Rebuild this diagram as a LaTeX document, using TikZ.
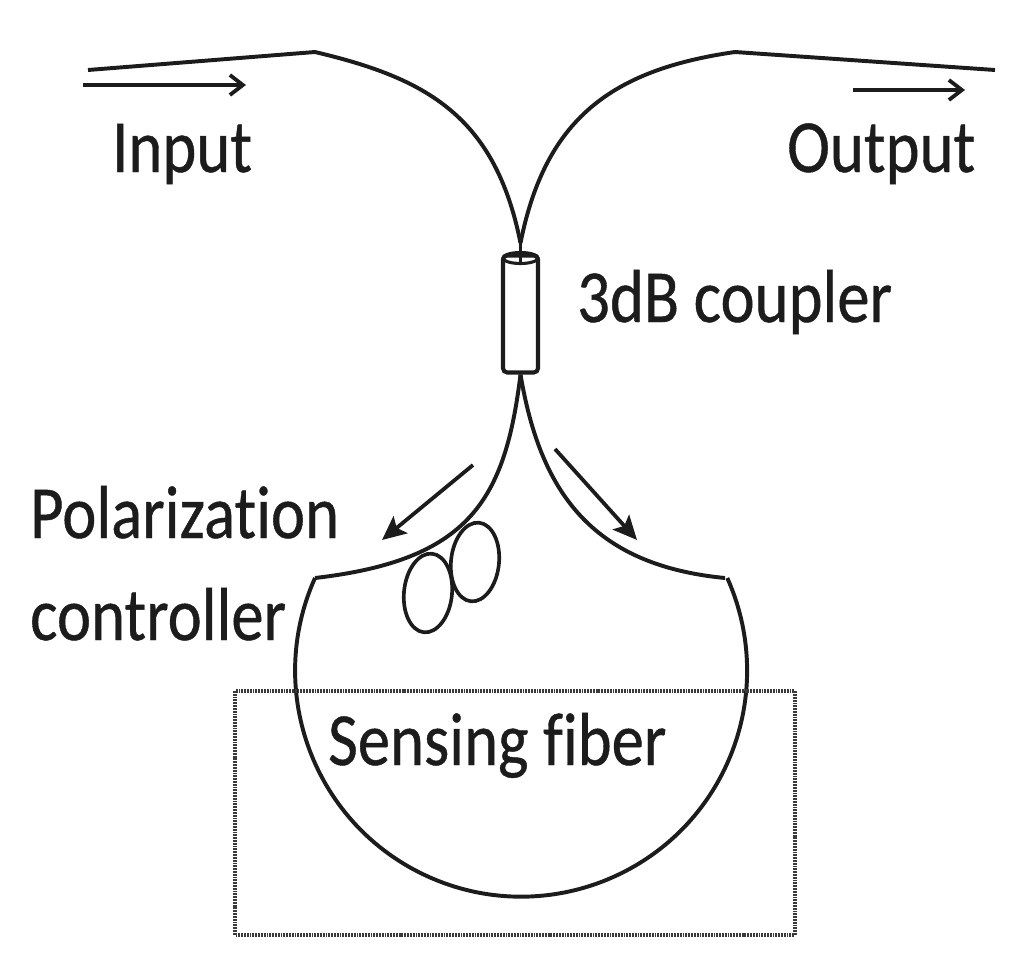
\documentclass[tikz,border=0pt]{standalone}
\usepackage{fontspec}
\setmainfont[Ligatures=NoCommon,FakeBold=.6]{Carlito}
\usetikzlibrary{arrows.meta,shapes.geometric}
\definecolor{Ink}{HTML}{1C1C1C}
\definecolor{Frame}{HTML}{3A3A3A}
\tikzset{>=Latex,
 every node/.style={text=Ink},
 lab/.style={anchor=base west,inner sep=0pt,transform shape,xscale=1.07,yscale=1.24,font=\fontsize{86}{100}\selectfont},
 fiber/.style={draw=Ink,line width=5.6pt,line join=round},
 arr/.style={-{Stealth[length=12mm,width=11mm,inset=2.5mm]},draw=Ink,line width=5.4pt},
 flowarr/.style={-{Straight Barb[length=6.5mm,width=10mm]},draw=Ink,line width=5.4pt},
 loopring/.style={ellipse,draw=Ink,line width=5.2pt,inner sep=0pt},
 coupler/.style={rectangle,draw=Ink,line width=5.8pt,fill=white,rounded corners=6pt,inner sep=0pt,minimum width=1.75cm,minimum height=5.85cm},
 rim/.style={ellipse,draw=Ink,line width=4.4pt,inner sep=0pt,minimum width=1.75cm,minimum height=.55cm},
 sensebox/.style={draw=Frame,line width=4.4pt,dash pattern=on 2.6pt off 1.4pt},
 }
\begin{document}
\begin{tikzpicture}[x=.05cm,y=-.05cm]
 \useasboundingbox (0,0) rectangle (1024,966);
 \node[coupler](cpl)at(520.5,314){};
 \node[rim](cplrim)at(520.5,258){};
 \coordinate(cpljoin)at(520.5,243);
 \coordinate(inend)at(88,70);
 \coordinate(inknee)at(315,52);
 \coordinate(outend)at(995,70);
 \coordinate(outknee)at(735,52);
 \coordinate(pcknee)at(315,578);
 \coordinate(senseknee)at(725,578);
 \coordinate(boxa)at(235,691);
 \coordinate(boxb)at(795,935);
 % fibers
 \draw[fiber](inend)--(inknee) .. controls (425,78) and (495,115) .. (cpljoin);
 \draw[fiber](outend)--(outknee) .. controls (610,70) and (545,120) .. (cpljoin);
 \draw[fiber](cpljoin)--(cplrim.south);
 \draw[fiber](cpl.south) .. controls (505,500) and (470,560) .. (pcknee);
 \draw[fiber](cpl.south) .. controls (540,490) and (590,565) .. (senseknee);
 \draw[fiber](pcknee) arc[start angle=204.2,end angle=-24.2,radius=226];
 \node[loopring,minimum width=2.4cm,minimum height=3.95cm,rotate=-6](pca)at(428,593){};
 \node[loopring,minimum width=2.4cm,minimum height=3.95cm,rotate=-6](pcb)at(475,562){};
 \draw[sensebox](boxa)rectangle(boxb);
 % direction arrows
 \coordinate(ina)at(83,85);\coordinate(inb)at(246,85);
 \coordinate(outa)at(853,90);\coordinate(outb)at(965,90);
 \coordinate(la)at(473,465);\coordinate(lb)at(382,540);
 \coordinate(ra)at(555,449);\coordinate(rb)at(637,540);
 \draw[flowarr](ina)--(inb);\draw[flowarr](outa)--(outb);
 \draw[arr](la)--(lb);\draw[arr](ra)--(rb);
 % labels
 \node[lab](input)at(112,172){Input};
 \node[lab](output)at(787,172){Output};
 \node[lab](cpltext)at(577,322){3dB coupler};
 \node[lab](pc1)at(30,538){Polarization};
 \node[lab](pc2)at(30,640){controller};
 \node[lab](sense)at(328,765){Sensing fiber};
\end{tikzpicture}
\end{document}
